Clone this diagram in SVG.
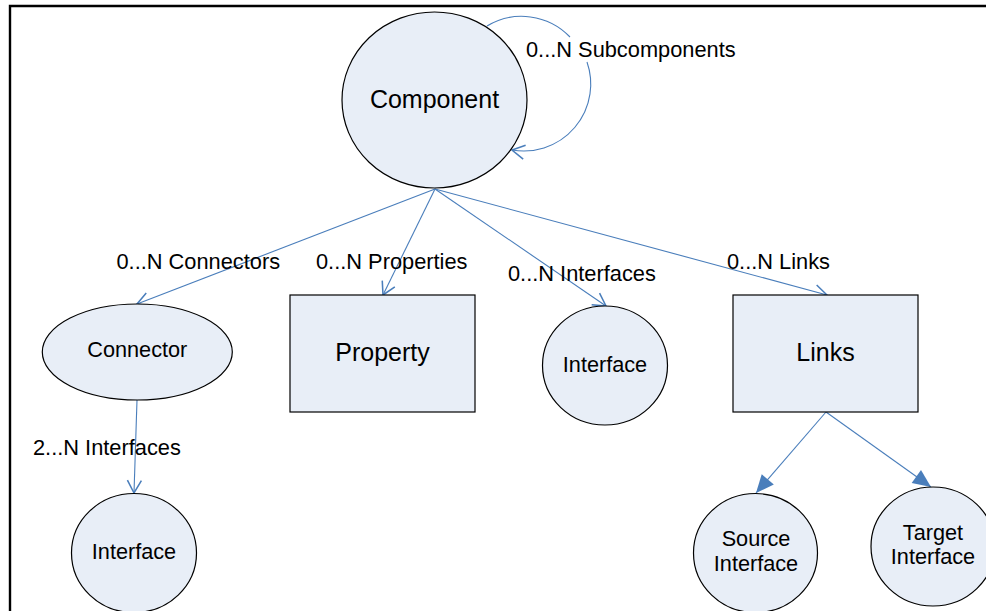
<svg xmlns="http://www.w3.org/2000/svg" width="986" height="611" viewBox="0 0 986 611">
<style>
.node{fill:#E8EEF7;stroke:#000;stroke-width:1.2}
.big{font-family:"Liberation Sans",Arial,sans-serif;font-size:25px;fill:#000;text-anchor:middle}
.mid{font-family:"Liberation Sans",Arial,sans-serif;font-size:21.7px;fill:#000;text-anchor:middle}
.lbl{font-family:"Liberation Sans",Arial,sans-serif;font-size:21.8px;fill:#000}
.edge{fill:none;stroke:#4A7EBB;stroke-width:1.1}
</style>
<defs>
<marker id="open" markerUnits="userSpaceOnUse" markerWidth="14" markerHeight="14" refX="10" refY="5" orient="auto" viewBox="0 0 10 10" overflow="visible">
<path d="M1,0 L10,5 L1,10" fill="none" stroke="#4A7EBB" stroke-width="1.1"/>
</marker>
<marker id="solid" markerUnits="userSpaceOnUse" markerWidth="18" markerHeight="16" refX="18" refY="8" orient="auto" viewBox="0 0 18 16" overflow="visible">
<path d="M0,0 L18,8 L0,16 Z" fill="#4A7EBB" stroke="none"/>
</marker>
</defs>
<rect x="0" y="0" width="986" height="611" fill="#fff"/>
<path d="M10,611 L10,6 L986,6" fill="none" stroke="#000" stroke-width="2.4"/>
<g id="connectors">
<path class="edge" d="M487,26 A67,67 0 0 1 570,37"/>
<path class="edge" marker-end="url(#open)" d="M587,62 A67,67 0 0 1 512,150"/>
<path class="edge" marker-end="url(#open)" d="M435,189 L137,304"/>
<path class="edge" marker-end="url(#open)" d="M435,189 L383,295"/>
<path class="edge" marker-end="url(#open)" d="M435,189 L606,306"/>
<path class="edge" marker-end="url(#open)" d="M435,189 L827,295"/>
<path class="edge" marker-end="url(#open)" d="M137,400 L134,493"/>
<path class="edge" marker-end="url(#solid)" d="M826,412 L756,493"/>
<path class="edge" marker-end="url(#solid)" d="M826,412 L931,487"/>
<text class="lbl" x="526" y="57">0...N Subcomponents</text>
<text class="lbl" x="116.5" y="268.5">0...N Connectors</text>
<text class="lbl" x="316" y="268.5">0...N Properties</text>
<text class="lbl" x="508" y="281">0...N Interfaces</text>
<text class="lbl" x="727" y="268.5">0...N Links</text>
<text class="lbl" x="33" y="455">2...N Interfaces</text>
</g>
<g id="component">
<ellipse class="node" cx="434.5" cy="100" rx="92.5" ry="88"/>
<text class="big" x="434.5" y="107.5">Component</text>
</g>
<g id="connector">
<ellipse class="node" cx="137.3" cy="352" rx="95" ry="48"/>
<text class="mid" x="137.3" y="357">Connector</text>
</g>
<g id="property">
<rect class="node" x="290" y="295" width="185" height="117"/>
<text class="big" x="382.5" y="361">Property</text>
</g>
<g id="interface">
<ellipse class="node" cx="605" cy="365.5" rx="62.5" ry="59.5"/>
<text class="mid" x="605" y="372">Interface</text>
</g>
<g id="links">
<rect class="node" x="733" y="295" width="185" height="117"/>
<text class="big" x="825.5" y="361">Links</text>
</g>
<g id="connector-interface">
<ellipse class="node" cx="134" cy="553" rx="62.5" ry="59.5"/>
<text class="mid" x="134" y="558.5">Interface</text>
</g>
<g id="source-interface">
<ellipse class="node" cx="755.5" cy="553" rx="62" ry="59.5"/>
<text class="mid" x="756" y="546">Source</text>
<text class="mid" x="756" y="570.5">Interface</text>
</g>
<g id="target-interface">
<ellipse class="node" cx="933" cy="546.5" rx="62" ry="59.5"/>
<text class="mid" x="933" y="539.5">Target</text>
<text class="mid" x="933" y="564">Interface</text>
</g>
</svg>
